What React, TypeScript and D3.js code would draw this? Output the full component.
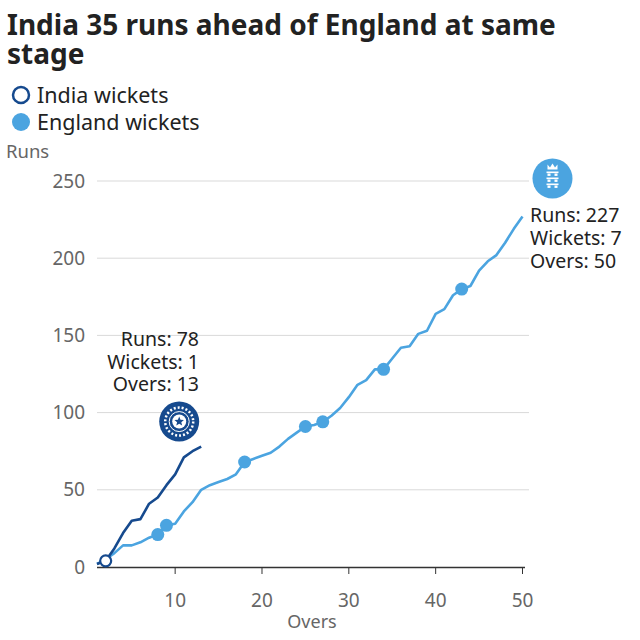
import React from "react";
import * as d3 from "d3";

const titleLines = ["India 35 runs ahead of England at same", "stage"];
const legendLabels = ["India wickets", "England wickets"];
const indiaOvers = [1, 2, 3, 4, 5, 6, 7, 8, 9, 10, 11, 12, 13];
const indiaRuns = [2, 4, 12, 22, 30, 31, 41, 45, 53, 60, 71, 75, 78];
const indiaWicketOvers = [2];
const englandOvers = d3.range(1, 51);
const englandRuns = [
  2, 5, 9, 14, 14, 16, 19, 21, 27, 28,
  36, 42, 50, 53, 55, 57, 60, 68, 70, 72,
  74, 78, 83, 87, 91, 92, 94, 98, 103, 110,
  118, 121, 128, 128, 135, 142, 143, 151, 153, 164,
  167, 176, 180, 182, 192, 198, 202, 210, 219, 227,
];
const englandWicketOvers = [8, 9, 18, 25, 27, 34, 43];
const xTicks = [10, 20, 30, 40, 50];
const yTicks = [0, 50, 100, 150, 200, 250];
const indiaInfo = ["Runs: 78", "Wickets: 1", "Overs: 13"];
const englandInfo = ["Runs: 227", "Wickets: 7", "Overs: 50"];

const INDIA = "#164a8e";
const ENGLAND = "#4ba4e0";
const FONT = "'Noto Sans', 'Open Sans', sans-serif";

export default function App() {
  const x = d3.scaleLinear().domain([1, 50]).range([97, 522.5]);
  const y = d3.scaleLinear().domain([0, 250]).range([567, 181]);

  const india = indiaOvers.map((o, i) => ({ o, r: indiaRuns[i] }));
  const england = englandOvers.map((o, i) => ({ o, r: englandRuns[i] }));
  const line = d3
    .line<{ o: number; r: number }>()
    .x((d) => x(d.o))
    .y((d) => y(d.r));

  const iEnd = india[india.length - 1];
  const eEnd = england[england.length - 1];
  const iLogo = { cx: x(iEnd.o) - 22, cy: y(iEnd.r) - 25 };
  const eLogo = { cx: x(eEnd.o) + 30, cy: y(eEnd.r) - 38 };

  const star = (cx: number, cy: number, R: number, r: number) => {
    const pts: string[] = [];
    for (let i = 0; i < 10; i++) {
      const a = -Math.PI / 2 + (i * Math.PI) / 5;
      const rad = i % 2 === 0 ? R : r;
      pts.push(`${cx + rad * Math.cos(a)},${cy + rad * Math.sin(a)}`);
    }
    return "M" + pts.join("L") + "Z";
  };

  return (
    <svg
      width={640}
      height={640}
      style={{ position: "absolute", left: 0, top: 0, background: "#fff" }}
      fontFamily={FONT}
    >
      {titleLines.map((t, i) => (
        <text key={t} x={7} y={35 + i * 29} fontSize={28} fontWeight={700} fill="#222">
          {t}
        </text>
      ))}

      {/* legend */}
      <circle cx={21} cy={95} r={8} fill="#fff" stroke={INDIA} strokeWidth={2.5} />
      <text x={37} y={103} fontSize={21.5} fill="#222">{legendLabels[0]}</text>
      <circle cx={21} cy={122} r={9} fill={ENGLAND} />
      <text x={37} y={130} fontSize={21.5} fill="#222">{legendLabels[1]}</text>

      <text x={6} y={158} fontSize={18.5} fill="#666">Runs</text>

      {/* grid + y ticks */}
      {yTicks.map((t) => (
        <g key={t}>
          {t > 0 && (
            <line x1={97} x2={529} y1={y(t)} y2={y(t)} stroke="#d9d9d9" strokeWidth={1} />
          )}
          <text x={85} y={y(t) + 6.5} fontSize={19} fill="#666" textAnchor="end">
            {t}
          </text>
        </g>
      ))}

      {/* x axis */}
      <line x1={97} x2={525} y1={567.5} y2={567.5} stroke="#333" strokeWidth={1.5} />
      {xTicks.map((t) => (
        <g key={t}>
          <line x1={x(t)} x2={x(t)} y1={567} y2={574} stroke="#333" strokeWidth={1} />
          <text x={x(t)} y={607} fontSize={19} fill="#666" textAnchor="middle">
            {t}
          </text>
        </g>
      ))}
      <text x={312} y={628} fontSize={18} fill="#666" textAnchor="middle">Overs</text>

      {/* lines */}
      <path d={line(england) || ""} fill="none" stroke={ENGLAND} strokeWidth={2.6} strokeLinejoin="round" />
      {englandWicketOvers.map((o) => (
        <circle key={o} cx={x(o)} cy={y(englandRuns[o - 1])} r={6.5} fill={ENGLAND} />
      ))}
      <path d={line(india) || ""} fill="none" stroke={INDIA} strokeWidth={2.6} strokeLinejoin="round" />
      {indiaWicketOvers.map((o) => (
        <circle key={o} cx={x(o)} cy={y(indiaRuns[o - 1])} r={5.5} fill="#fff" stroke={INDIA} strokeWidth={2.2} />
      ))}

      {/* India annotation */}
      {indiaInfo.map((t, i) => (
        <text key={t} x={199} y={346 + i * 22.5} fontSize={19.5} fill="#222" textAnchor="end">
          {t}
        </text>
      ))}
      <g>
        <circle cx={iLogo.cx} cy={iLogo.cy} r={20} fill={INDIA} />
        <circle cx={iLogo.cx} cy={iLogo.cy} r={14} fill="none" stroke="#fff" strokeWidth={2.5} strokeDasharray="2 2" />
        <circle cx={iLogo.cx} cy={iLogo.cy} r={10} fill="none" stroke="#fff" strokeWidth={1} />
        <circle cx={iLogo.cx} cy={iLogo.cy} r={7} fill="#fff" />
        <path d={star(iLogo.cx, iLogo.cy, 5, 2.2)} fill={INDIA} />
      </g>

      {/* England annotation */}
      <g>
        <circle cx={eLogo.cx} cy={eLogo.cy} r={20} fill={ENGLAND} />
        <path
          d={`M${eLogo.cx - 5},${eLogo.cy - 9} L${eLogo.cx - 5},${eLogo.cy - 14} L${eLogo.cx - 2.5},${eLogo.cy - 11} L${eLogo.cx},${eLogo.cy - 15} L${eLogo.cx + 2.5},${eLogo.cy - 11} L${eLogo.cx + 5},${eLogo.cy - 14} L${eLogo.cx + 5},${eLogo.cy - 9} Z`}
          fill="#fff"
        />
        {[0, 1, 2].map((k) => (
          <g key={k}>
            <rect x={eLogo.cx - 6} y={eLogo.cy - 7 + k * 6} width={12} height={1.6} fill="#fff" />
            <rect x={eLogo.cx - 5} y={eLogo.cy - 5 + k * 6} width={3} height={2.4} fill="#fff" />
            <rect x={eLogo.cx + 2} y={eLogo.cy - 5 + k * 6} width={3} height={2.4} fill="#fff" />
          </g>
        ))}
      </g>
      {englandInfo.map((t, i) => (
        <text key={t} x={530} y={222 + i * 23} fontSize={19.5} fill="#222">
          {t}
        </text>
      ))}
    </svg>
  );
}
